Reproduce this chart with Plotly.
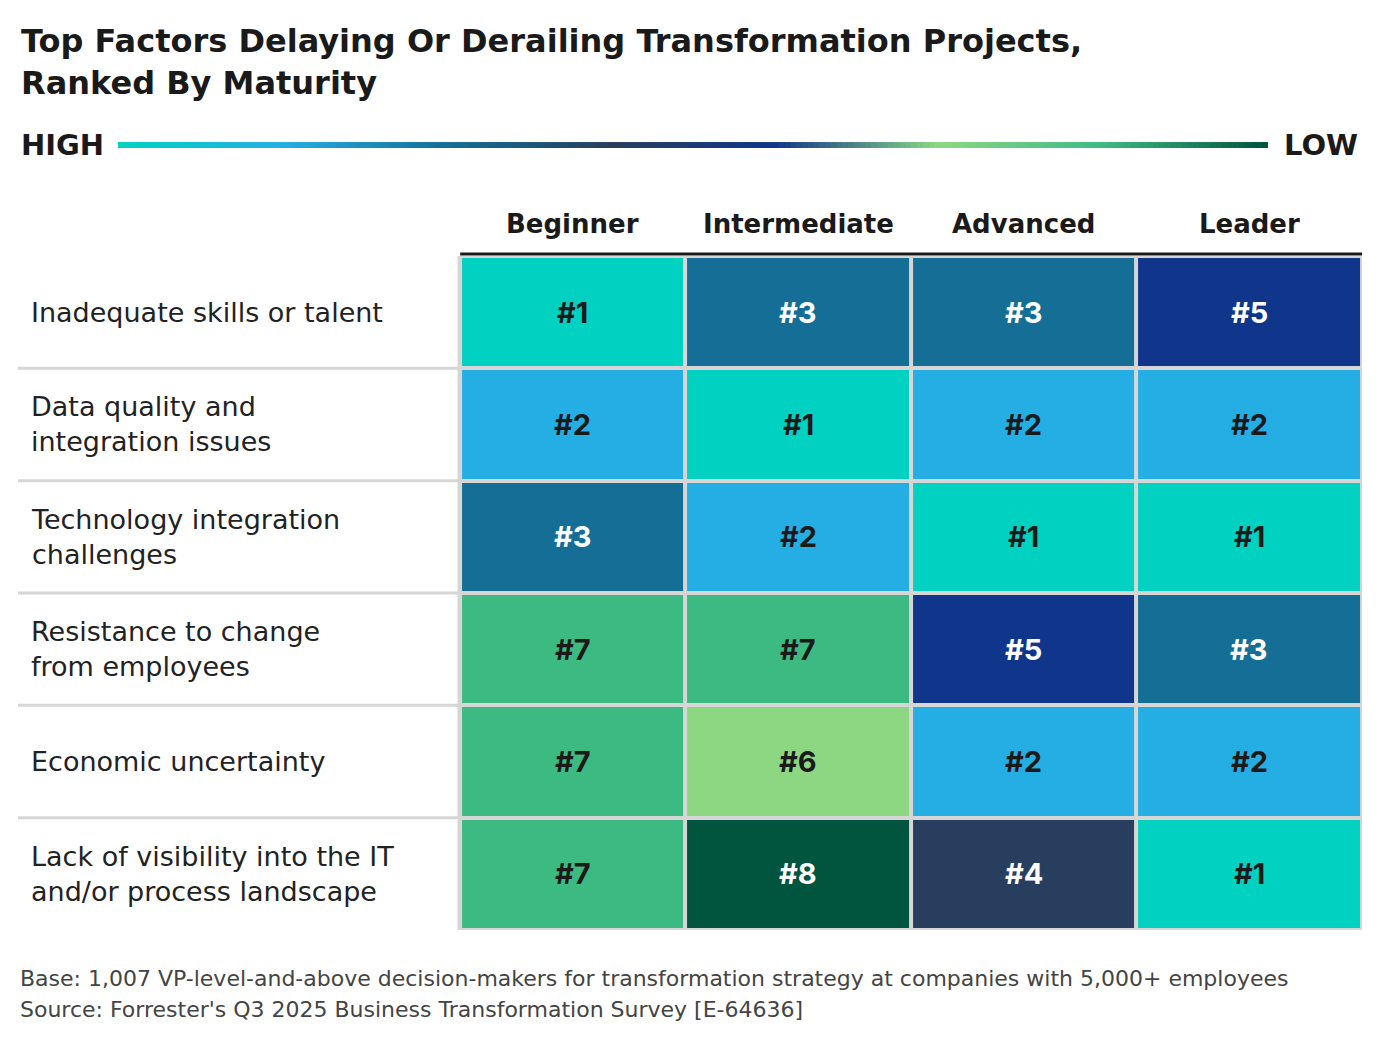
import plotly.graph_objects as go

columns = ["Beginner", "Intermediate", "Advanced", "Leader"]
factors = ["Inadequate skills or talent", "Data quality and<br>integration issues",
           "Technology integration<br>challenges", "Resistance to change<br>from employees",
           "Economic uncertainty", "Lack of visibility into the IT<br>and/or process landscape"]
ranks = [[1, 3, 3, 5],
         [2, 1, 2, 2],
         [3, 2, 1, 1],
         [7, 7, 5, 3],
         [7, 6, 2, 2],
         [7, 8, 4, 1]]
rank_colors = {1: "#00D1C1", 2: "#25AEE4", 3: "#146E95", 4: "#283E5E",
               5: "#0F368A", 6: "#8DD782", 7: "#3DBA82", 8: "#01553F"}
dark_ranks = {3, 4, 5, 8}

cs = []
for k in range(1, 9):
    cs.append([(k - 1) / 8, rank_colors[k]])
    cs.append([k / 8, rank_colors[k]])

F = "DejaVu Sans"
fig = go.Figure()
fig.add_trace(go.Heatmap(z=ranks, x=columns, y=list(range(len(factors))),
                         colorscale=cs, zmin=0.5, zmax=8.5, showscale=False,
                         xgap=4, ygap=4, hoverinfo="skip", xaxis="x", yaxis="y"))
grad = ["#00D1C1", "#25AEE4", "#146E95", "#283E5E", "#0F368A", "#8DD782", "#3DBA82", "#01553F"]
gcs = [[i / (len(grad) - 1), c] for i, c in enumerate(grad)]
fig.add_trace(go.Heatmap(z=[list(range(200))], colorscale=gcs, showscale=False,
                         hoverinfo="skip", xaxis="x2", yaxis="y2"))

ann = []
for r, row in enumerate(ranks):
    for c, v in enumerate(row):
        ann.append(dict(x=columns[c], y=r, xref="x", yref="y", text=f"<b>#{v}</b>",
                        showarrow=False, font=dict(size=29, family="Inter",
                        color="white" if v in dark_ranks else "#1a1a1a")))
for r, f in enumerate(factors):
    ann.append(dict(x=0.008, y=r, xref="paper", yref="y", text=f, xanchor="left",
                    yanchor="middle", align="left", showarrow=False,
                    font=dict(size=27, family=F, color="#222")))
for c in columns:
    ann.append(dict(x=c, y=0.7758, xref="x", yref="paper", text=f"<b>{c}</b>",
                    yanchor="middle", showarrow=False,
                    font=dict(size=26, family=F, color="#1a1a1a")))
ann += [
    dict(x=0.0005, y=1.0, xref="paper", yref="paper", xanchor="left", yanchor="top",
         align="left", showarrow=False,
         text="<b>Top Factors Delaying Or Derailing Transformation Projects,<br>Ranked By Maturity</b>",
         font=dict(size=32, family=F, color="#1a1a1a")),
    dict(x=0.0005, y=0.8626, xref="paper", yref="paper", xanchor="left", yanchor="middle",
         showarrow=False, text="<b>HIGH</b>", font=dict(size=29, family=F, color="#1a1a1a")),
    dict(x=0.9985, y=0.8626, xref="paper", yref="paper", xanchor="right", yanchor="middle",
         showarrow=False, text="<b>LOW</b>", font=dict(size=29, family=F, color="#1a1a1a")),
    dict(x=0.0, y=-0.0538, xref="paper", yref="paper", xanchor="left", yanchor="middle",
         showarrow=False,
         text="Base: 1,007 VP-level-and-above decision-makers for transformation strategy at companies with 5,000+ employees",
         font=dict(size=22, family=F, color="#444")),
    dict(x=0.0, y=-0.0879, xref="paper", yref="paper", xanchor="left", yanchor="middle",
         showarrow=False,
         text="Source: Forrester's Q3 2025 Business Transformation Survey [E-64636]",
         font=dict(size=22, family=F, color="#444")),
]

shapes = [dict(type="rect", xref="paper", yref="paper", x0=0.327, x1=1.0, y0=0, y1=0.7407,
               fillcolor="#d6d6d6", line=dict(width=0), layer="below"),
          dict(type="line", xref="paper", yref="paper", x0=0.329, x1=1.0, y0=0.7429, y1=0.7429,
               line=dict(color="#1a1a1a", width=3))]
for r in range(len(factors) - 1):
    shapes.append(dict(type="line", xref="paper", yref="y", x0=0, x1=0.33, y0=r + 0.5, y1=r + 0.5,
                       line=dict(color="#d6d6d6", width=3)))

fig.update_layout(
    width=1368, height=1027, margin=dict(l=10, r=14, t=12, b=105),
    paper_bgcolor="white", plot_bgcolor="white",
    xaxis=dict(domain=[0.3289, 1.0], showticklabels=False, showgrid=False, zeroline=False, fixedrange=True),
    yaxis=dict(domain=[0, 0.7407], autorange="reversed", showticklabels=False, showgrid=False,
               zeroline=False, fixedrange=True),
    xaxis2=dict(domain=[0.0744, 0.930], anchor="y2", visible=False),
    yaxis2=dict(domain=[0.8593, 0.8659], anchor="x2", visible=False),
    annotations=ann, shapes=shapes, showlegend=False,
)
fig.write_html("out.html")
